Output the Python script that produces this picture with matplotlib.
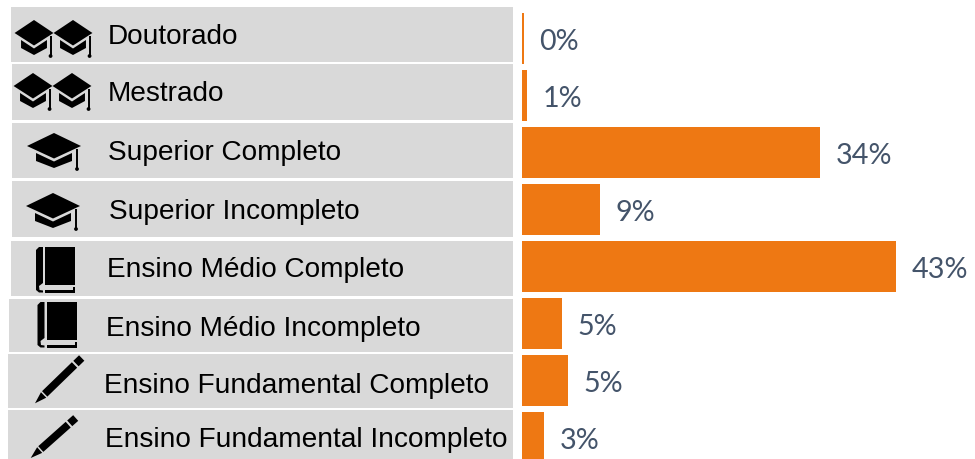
import numpy as np
import matplotlib
matplotlib.use('Agg')
import matplotlib.pyplot as plt
from matplotlib.patches import Polygon, Rectangle, Circle

categorias = ['Doutorado', 'Mestrado', 'Superior Completo', 'Superior Incompleto',
              'Ensino Médio Completo', 'Ensino Médio Incompleto',
              'Ensino Fundamental Completo', 'Ensino Fundamental Incompleto']
valores = [0.2, 0.6, 34.2, 8.9, 42.9, 4.6, 5.3, 2.5]
rotulos = ['0%', '1%', '34%', '9%', '43%', '5%', '5%', '3%']

LARANJA = '#EE7813'
CINZA = '#D9D9D9'
AZUL = '#44546A'

# faixas cinza: x esquerdo, y topo, y base (px)
faixas = [(11, 7, 62), (12, 64, 120), (12, 123, 178), (12, 181, 237),
          (11, 241, 296), (9, 299, 352), (8, 354, 408), (8, 410, 459)]
texto_pos = [(108, 37), (108, 94), (108, 153), (109, 212),
             (107, 270), (106, 329), (104, 386), (105, 440)]


def capelo(ax, cx, cy, ex=1.0, ey=1.0):
    """chapeu de formatura centrado em cx, cy"""
    def p(pts):
        return [(cx + x * ex, cy + y * ey) for x, y in pts]
    ax.add_patch(Polygon(p([(-27, 0), (0, -13), (27, 0), (0, 12.5)]), fc='k', ec='none'))
    ax.add_patch(Polygon(p([(-18, 7), (0, 15.5), (18, 7), (18, 15), (0, 22), (-18, 15)]),
                         fc='k', ec='none'))
    ax.plot([cx + 23 * ex] * 2, [cy + 3, cy + 23], color='k', lw=1.4,
            solid_capstyle='butt')
    ax.add_patch(Circle((cx + 23 * ex, cy + 23), 1.9, fc='k', ec='none'))


def livro(ax, x, y):
    """livro com canto superior esquerdo em x, y"""
    ax.add_patch(Rectangle((x + 9, y), 30, 37.5, fc='k', ec='none'))
    ax.add_patch(Polygon([(x + 3, y), (x + 7, y), (x + 7, y + 36), (x + 3, y + 39),
                          (x + 3.5, y + 43), (x + 7, y + 43.5), (x + 7, y + 45.5),
                          (x + 3, y + 45.5), (x, y + 43), (x, y + 3)], fc='k', ec='none'))
    ax.add_patch(Rectangle((x + 9, y + 43), 30, 2.5, fc='k', ec='none'))
    ax.add_patch(Rectangle((x + 37, y + 40), 2, 4, fc='k', ec='none'))


def lapis(ax, xp, yp, xf, yf):
    """lapis da ponta (xp, yp) ate a borracha (xf, yf)"""
    p0 = np.array([xp, yp], dtype=float)
    d = np.array([xf - xp, yf - yp], dtype=float)
    L = np.hypot(*d)
    d /= L
    n = np.array([-d[1], d[0]])

    def p(pts):
        return [p0 + d * a + n * b for a, b in pts]
    ax.add_patch(Polygon(p([(0, 0), (12, -3.8), (12, 3.8)]), fc='k', ec='none'))
    ax.add_patch(Polygon(p([(13.5, -3.8), (L - 10, -3.8), (L - 10, 3.8), (13.5, 3.8)]),
                         fc='k', ec='none'))
    ax.add_patch(Polygon(p([(L - 8, -3.8), (L, -3.8), (L, 3.8), (L - 8, 3.8)]),
                         fc='k', ec='none'))


fig = plt.figure(figsize=(9.75, 4.59), dpi=100)

# camada de fundo em pixels
ov = fig.add_axes([0, 0, 1, 1])
ov.set_xlim(0, 975)
ov.set_ylim(459, 0)
ov.axis('off')

for (x0, y0, y1), nome, (tx, ty) in zip(faixas, categorias, texto_pos):
    ov.add_patch(Rectangle((x0, y0), 513 - x0, y1 - y0, fc=CINZA, ec='none'))
    ov.text(tx, ty, nome, fontsize=20.15, family='Liberation Sans', color='k',
            ha='left', va='center')

capelo(ov, 34, 33, 0.72, 1.0)
capelo(ov, 73, 33, 0.72, 1.0)
capelo(ov, 33, 86, 0.72, 1.0)
capelo(ov, 72, 86, 0.72, 1.0)
capelo(ov, 54, 146)
capelo(ov, 53, 206)
livro(ov, 36, 247)
livro(ov, 37.5, 302)
lapis(ov, 35, 403.3, 81.7, 358)
lapis(ov, 30.7, 458, 75.7, 418)

# barras
ax = fig.add_axes([522 / 975, 0, 453 / 975, 1])
ax.patch.set_alpha(0)
y = np.arange(len(valores))
ax.barh(y, valores, height=51 / 57, color=LARANJA)
ax.set_xlim(0, 453 / 8.72)
ax.set_ylim((459 - 38.5) / 57, -38.5 / 57)
ax.axis('off')

for i, (v, r) in enumerate(zip(valores, rotulos)):
    ax.annotate(r, (v, i), xytext=(11.3, -2.2), textcoords='offset points',
                fontsize=20.7, family='Lato', color=AZUL, ha='left', va='center',
                annotation_clip=False)

fig.savefig('out.png', dpi=100)
